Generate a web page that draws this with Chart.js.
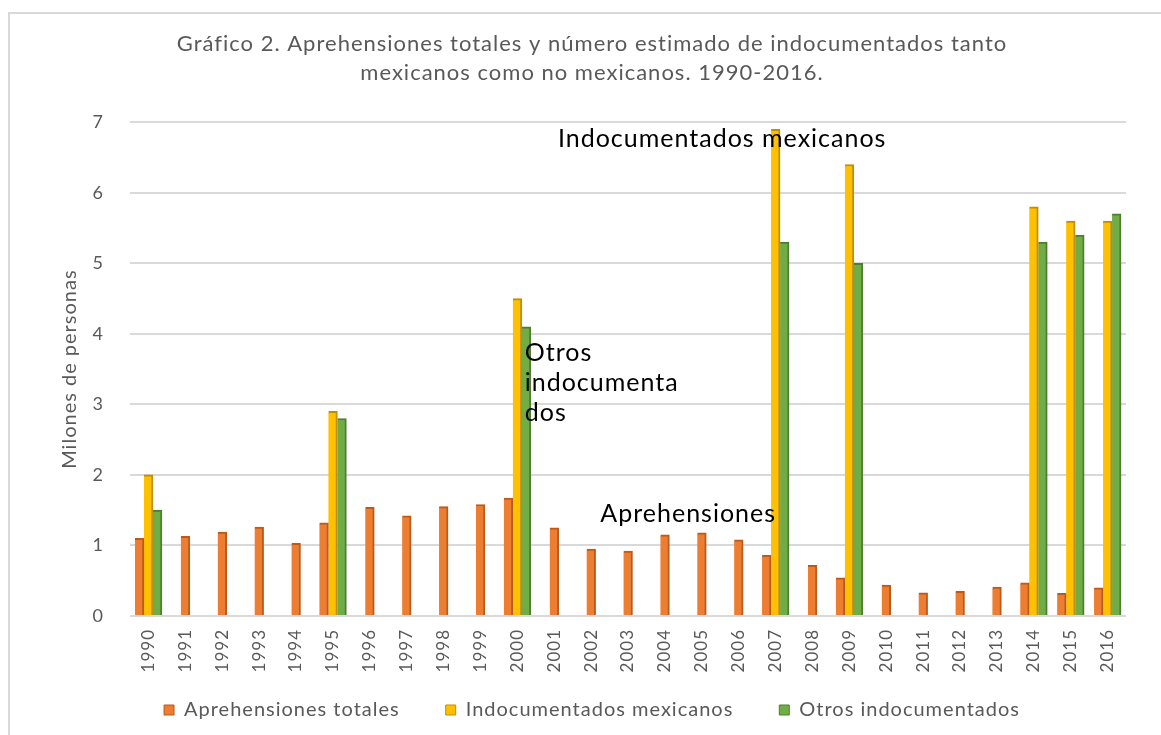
<!DOCTYPE html>
<html>
<head>
<meta charset="utf-8">
<script src="https://cdn.jsdelivr.net/npm/chart.js@4.4.1/dist/chart.umd.min.js"></script>
<style>
  html, body { margin: 0; padding: 0; background: #fff; }
  #wrap { position: relative; width: 1161px; height: 735px; overflow: hidden; }
  #frame { position: absolute; left: 8px; top: 12px; width: 1160px; height: 730px; border: 2px solid #d9d9d9; }
  canvas { position: absolute; left: 0; top: 0; }
</style>
</head>
<body>
<div id="wrap"><div id="frame"></div><canvas id="chart" width="1161" height="735"></canvas></div>
<script>
const years = ['1990','1991','1992','1993','1994','1995','1996','1997','1998','1999',
  '2000','2001','2002','2003','2004','2005','2006','2007','2008','2009',
  '2010','2011','2012','2013','2014','2015','2016'];

// millones de personas
const aprehensiones = [1.10, 1.13, 1.19, 1.26, 1.03, 1.32, 1.54, 1.42, 1.55, 1.58,
  1.67, 1.25, 0.95, 0.92, 1.15, 1.18, 1.08, 0.86, 0.72, 0.54,
  0.44, 0.33, 0.35, 0.41, 0.47, 0.32, 0.40];
const mexicanos = [2.0, null, null, null, null, 2.9, null, null, null, null,
  4.5, null, null, null, null, null, null, 6.9, null, 6.4,
  null, null, null, null, 5.8, 5.6, 5.6];
const otros = [1.5, null, null, null, null, 2.8, null, null, null, null,
  4.1, null, null, null, null, null, null, 5.3, null, 5.0,
  null, null, null, null, 5.3, 5.4, 5.7];

const yMax = 7;

// text notes placed in data units (category index, value)
const notes = [
  { lines: ['Indocumentados mexicanos'], x: 11.1, y: 6.76 },
  { lines: ['Otros', 'indocumenta', 'dos'], x: 10.2, y: 3.73 },
  { lines: ['Aprehensiones'], x: 12.25, y: 1.44 }
];

const grey = '#595959';
const font = 'Lato, "Open Sans", sans-serif';

// the source text is set a little wide
const spacingPlugin = {
  id: 'spacing',
  beforeLayout(chart) { chart.ctx.letterSpacing = '1px'; },
  beforeDraw(chart) { chart.ctx.letterSpacing = '1px'; }
};

// pull the legend up into the empty room under the year labels
const legendShift = {
  id: 'legendShift',
  afterLayout(chart) {
    chart.legend.top -= 27;
    chart.legend.bottom -= 27;
  }
};

const notesPlugin = {
  id: 'notes',
  afterDatasetsDraw(chart) {
    const { ctx, scales: { x, y } } = chart;
    ctx.save();
    ctx.fillStyle = '#000';
    ctx.font = '25px ' + font;
    ctx.textAlign = 'left';
    ctx.textBaseline = 'middle';
    notes.forEach(n => {
      const px = x.getPixelForValue(n.x);
      const py = y.getPixelForValue(n.y);
      n.lines.forEach((line, i) => ctx.fillText(line, px, py + i * 30));
    });
    ctx.restore();
  }
};

function barSet(label, data, color, edge) {
  return {
    label,
    data,
    backgroundColor: color,
    borderColor: edge,
    borderWidth: { top: 2, right: 2, left: 0, bottom: 0 },
    borderSkipped: false,
    barThickness: 9,
    skipNull: true
  };
}

const ctx = document.getElementById('chart').getContext('2d');
new Chart(ctx, {
  type: 'bar',
  data: {
    labels: years,
    datasets: [
      barSet('Aprehensiones totales', aprehensiones, '#ED7D31', '#B95B1C'),
      barSet('Indocumentados mexicanos', mexicanos, '#FFC000', '#C08F00'),
      barSet('Otros indocumentados', otros, '#70AD47', '#4E7E30')
    ]
  },
  options: {
    responsive: false,
    devicePixelRatio: 1,
    animation: false,
    layout: { padding: { left: 58, right: 35, top: 16, bottom: -22 } },
    plugins: {
      title: {
        display: true,
        text: ['Gráfico 2. Aprehensiones totales y número estimado de indocumentados tanto',
               'mexicanos como no mexicanos. 1990-2016.'],
        color: grey,
        font: { family: font, size: 22, weight: 'normal', lineHeight: 1.3 },
        padding: { top: 14, bottom: 35 }
      },
      legend: {
        position: 'bottom',
        labels: {
          color: grey,
          boxWidth: 10,
          boxHeight: 10,
          padding: 46,
          font: { family: font, size: 20 }
        }
      },
      tooltip: { enabled: false }
    },
    scales: {
      x: {
        grid: { display: false },
        border: { display: false },
        ticks: {
          color: grey,
          font: { family: font, size: 17 },
          minRotation: 90,
          maxRotation: 90,
          autoSkip: false,
          padding: 5
        },
        afterFit(scale) { scale.height = 65; }
      },
      y: {
        min: 0,
        max: yMax,
        border: { display: false },
        grid: { color: '#d9d9d9', lineWidth: 2, drawTicks: false },
        ticks: {
          stepSize: 1,
          color: grey,
          padding: 26,
          font: { family: font, size: 18 }
        },
        title: {
          display: true,
          text: 'Milones de personas',
          color: grey,
          font: { family: font, size: 20 },
          padding: { top: 0, bottom: 4 }
        },
        afterFit(scale) { scale.width = 72; }
      }
    }
  },
  plugins: [spacingPlugin, legendShift, notesPlugin]
});
</script>
</body>
</html>
